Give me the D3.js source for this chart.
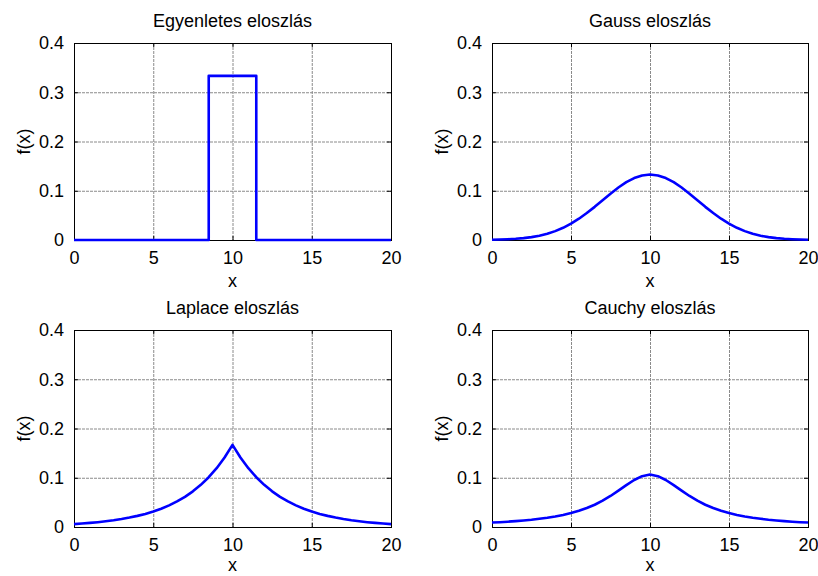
<!DOCTYPE html>
<html><head><meta charset="utf-8">
<script src="https://cdn.jsdelivr.net/npm/d3@7"></script>
<style>
html,body{margin:0;padding:0;background:#fff;}
text{font-family:"Liberation Sans",Arial,sans-serif;fill:#000;}
</style></head>
<body>
<svg id="chart" width="818" height="576"></svg>
<script>
// ---- data ----
const titles = ["Egyenletes eloszlás", "Gauss eloszlás", "Laplace eloszlás", "Cauchy eloszlás"];
const xTicks = [0, 5, 10, 15, 20];
const yTicks = [0, 0.1, 0.2, 0.3, 0.4];
const yTickLabels = ["0", "0.1", "0.2", "0.3", "0.4"];
const xTickLabels = ["0", "5", "10", "15", "20"];

const uniformX = [0, 8.5, 8.5, 11.5, 11.5, 20];
const uniformY = [0, 0, 0.3333, 0.3333, 0, 0];

const xs = [0,0.5,1,1.5,2,2.5,3,3.5,4,4.5,5,5.5,6,6.5,7,7.5,8,8.5,9,9.5,10,
            10.5,11,11.5,12,12.5,13,13.5,14,14.5,15,15.5,16,16.5,17,17.5,18,18.5,19,19.5,20];
const gaussY = [0.0005,0.0009,0.0015,0.0024,0.0038,0.0058,0.0087,0.0127,0.0180,0.0248,0.0332,
                0.0432,0.0547,0.0673,0.0807,0.0940,0.1065,0.1174,0.1258,0.1311,0.1330,
                0.1311,0.1258,0.1174,0.1065,0.0940,0.0807,0.0673,0.0547,0.0432,0.0332,
                0.0248,0.0180,0.0127,0.0087,0.0058,0.0038,0.0024,0.0015,0.0009,0.0005];
const laplaceY = [0.0059,0.0070,0.0083,0.0098,0.0116,0.0137,0.0162,0.0191,0.0226,0.0266,0.0315,
                  0.0372,0.0439,0.0519,0.0613,0.0724,0.0856,0.1011,0.1194,0.1411,0.1667,
                  0.1411,0.1194,0.1011,0.0856,0.0724,0.0613,0.0519,0.0439,0.0372,0.0315,
                  0.0266,0.0226,0.0191,0.0162,0.0137,0.0116,0.0098,0.0083,0.0070,0.0059];
const cauchyY = [0.0090,0.0098,0.0108,0.0120,0.0133,0.0148,0.0167,0.0188,0.0214,0.0245,0.0285,
                 0.0330,0.0385,0.0452,0.0535,0.0630,0.0738,0.0850,0.0955,0.1032,0.1065,
                 0.1032,0.0955,0.0850,0.0738,0.0630,0.0535,0.0452,0.0385,0.0330,0.0285,
                 0.0245,0.0214,0.0188,0.0167,0.0148,0.0133,0.0120,0.0108,0.0098,0.0090];

const series = [
  {x: uniformX, y: uniformY},
  {x: xs, y: gaussY},
  {x: xs, y: laplaceY},
  {x: xs, y: cauchyY}
];

// ---- layout ----
const panels = [
  {l: 74, r: 391, t: 43, b: 240},
  {l: 492, r: 808, t: 43, b: 240},
  {l: 74, r: 391, t: 330, b: 527},
  {l: 492, r: 808, t: 330, b: 527}
];
const FS = 18;
const svg = d3.select("#chart");

panels.forEach((p, i) => {
  const x = d3.scaleLinear().domain([0, 20]).range([p.l, p.r]);
  const y = d3.scaleLinear().domain([0, 0.4]).range([p.b, p.t]);
  const g = svg.append("g");

  // grid
  g.append("g").selectAll("line").data(xTicks.slice(1, -1)).join("line")
    .attr("x1", d => x(d) + 0.5).attr("x2", d => x(d) + 0.5)
    .attr("y1", p.t).attr("y2", p.b)
    .attr("stroke", "#8a8a8a").attr("stroke-width", 1).attr("stroke-dasharray", "3,1");
  g.append("g").selectAll("line").data(yTicks.slice(1, -1)).join("line")
    .attr("x1", p.l).attr("x2", p.r)
    .attr("y1", d => y(d) + 0.5).attr("y2", d => y(d) + 0.5)
    .attr("stroke", "#8a8a8a").attr("stroke-width", 1).attr("stroke-dasharray", "3,1");

  // axes with inward ticks on all sides
  const tl = 4;
  const axB = d3.axisBottom(x).tickValues(xTicks).tickSize(-tl).tickPadding(tl + 7).tickFormat((d, k) => xTickLabels[k]);
  const axT = d3.axisTop(x).tickValues(xTicks).tickSize(-tl).tickFormat("");
  const axL = d3.axisLeft(y).tickValues(yTicks).tickSize(-tl).tickPadding(tl + 6).tickFormat((d, k) => yTickLabels[k]);
  const axR = d3.axisRight(y).tickValues(yTicks).tickSize(-tl).tickFormat("");
  [[axB, `translate(0,${p.b})`], [axT, `translate(0,${p.t})`], [axL, `translate(${p.l},0)`], [axR, `translate(${p.r},0)`]]
    .forEach(([ax, tr]) => {
      const a = g.append("g").attr("transform", tr).call(ax);
      a.select(".domain").remove();
      a.selectAll("line").attr("stroke", "#000");
      a.selectAll("text").attr("font-size", FS).attr("font-family", "Liberation Sans, Arial, sans-serif").attr("fill", "#000");
    });

  // box
  g.append("rect").attr("x", p.l + 0.5).attr("y", p.t + 0.5)
    .attr("width", p.r - p.l).attr("height", p.b - p.t)
    .attr("fill", "none").attr("stroke", "#000").attr("stroke-width", 1);

  // data line
  const s = series[i];
  const pts = s.x.map((v, k) => [v, s.y[k]]);
  g.append("path").datum(pts)
    .attr("d", d3.line().x(d => x(d[0])).y(d => y(d[1])))
    .attr("fill", "none").attr("stroke", "#0000ff").attr("stroke-width", 2.6)
    .attr("stroke-linejoin", "round");

  // title
  g.append("text").attr("x", (p.l + p.r) / 2).attr("y", p.t - 16)
    .attr("text-anchor", "middle").attr("font-size", FS).text(titles[i]);
  // x label
  g.append("text").attr("x", (p.l + p.r) / 2).attr("y", Math.min(p.b + 47, 571))
    .attr("text-anchor", "middle").attr("font-size", FS).text("x");
  // y label
  g.append("text").attr("transform", `translate(${p.l - 44},${(p.t + p.b) / 2}) rotate(-90)`)
    .attr("text-anchor", "middle").attr("font-size", FS).text("f(x)");
});
</script>
</body></html>
